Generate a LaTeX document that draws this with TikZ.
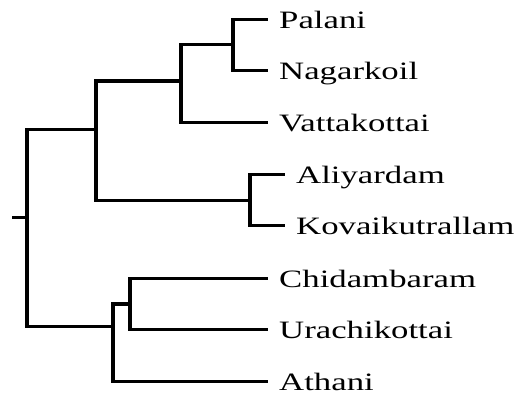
\documentclass[tikz,border=0pt]{standalone}
\usepackage{fontspec}
\setmainfont[FakeStretch=1.39]{Liberation Serif}
\begin{document}
\begin{tikzpicture}[x=1pt,y=1pt,
  branch/.style={line width=3.1pt, line join=miter},
  taxon/.style={anchor=west, inner xsep=11pt, inner ysep=0pt,
    text height=18pt, text depth=0pt, font=\fontsize{25}{29}\selectfont}]
  \useasboundingbox (0,0) rectangle (519,-392);

  % internal nodes of the tree
  \coordinate (root) at (27,-217.3);
  \coordinate (stub) at (12,-217.3);
  \coordinate (upper) at (96,-129.3);
  \coordinate (pnv) at (181,-81);
  \coordinate (pn) at (233,-44.5);
  \coordinate (ak) at (250,-200.5);
  \coordinate (cua) at (113,-326.7);
  \coordinate (cu) at (130,-304);

  % leaves
  \node[taxon] (palani) at (268,-19.5) {Palani};
  \node[taxon] (nagarkoil) at (268,-70.5) {Nagarkoil};
  \node[taxon] (vattakottai) at (268,-122.7) {Vattakottai};
  \node[taxon] (aliyardam) at (285,-174.3) {Aliyardam};
  \node[taxon] (kovai) at (285,-225.7) {Kovaikutrallam};
  \node[taxon] (chidambaram) at (268,-278.3) {Chidambaram};
  \node[taxon] (urachikottai) at (268,-329.3) {Urachikottai};
  \node[taxon] (athani) at (268,-381.7) {Athani};

  % branches
  \draw[branch] (stub) -- (root);
  \draw[branch] (root) |- (upper);
  \draw[branch] (root) |- (cua);
  \draw[branch] (upper) |- (pnv);
  \draw[branch] (upper) |- (ak);
  \draw[branch] (pnv) |- (pn);
  \draw[branch] (pnv) |- (vattakottai.west);
  \draw[branch] (pn) |- (palani.west);
  \draw[branch] (pn) |- (nagarkoil.west);
  \draw[branch] (ak) |- (aliyardam.west);
  \draw[branch] (ak) |- (kovai.west);
  \draw[branch] (cua) |- (cu);
  \draw[branch] (cua) |- (athani.west);
  \draw[branch] (cu) |- (chidambaram.west);
  \draw[branch] (cu) |- (urachikottai.west);
\end{tikzpicture}
\end{document}
